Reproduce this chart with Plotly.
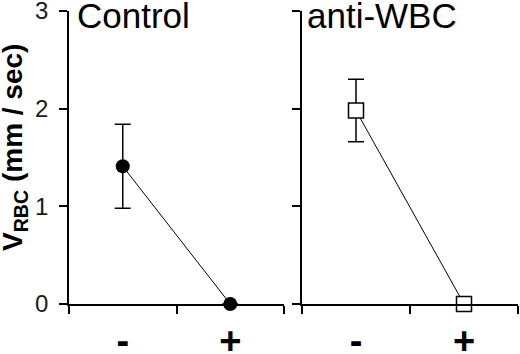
import plotly.graph_objects as go

categories = ["-", "+"]
control_vals = [1.41, 0.0]
control_err = [0.43, 0.0]
antiwbc_vals = [1.98, 0.0]
antiwbc_err = [0.32, 0.0]
y_ticks = [0, 1, 2, 3]
panel_titles = ["Control", "anti-WBC"]

W, H = 520, 354
ml, mr, mt, mb = 69, 2, 11, 50
pw = W - ml - mr
ph = H - mt - mb

fig = go.Figure()
fig.add_trace(go.Scatter(
    x=categories, y=control_vals, xaxis="x", yaxis="y",
    mode="lines+markers",
    line=dict(color="black", width=1),
    marker=dict(symbol="circle", size=14, color="black"),
    error_y=dict(type="data", array=control_err, visible=True,
                 color="black", thickness=1.5, width=8),
    cliponaxis=False, showlegend=False,
))
fig.add_trace(go.Scatter(
    x=categories, y=antiwbc_vals, xaxis="x2", yaxis="y2",
    mode="lines+markers",
    line=dict(color="black", width=1),
    marker=dict(symbol="square", size=15, color="white",
                line=dict(color="black", width=1.5)),
    error_y=dict(type="data", array=antiwbc_err, visible=True,
                 color="black", thickness=1.5, width=8),
    cliponaxis=False, showlegend=False,
))

d1 = [0, (284 - ml) / pw]
d2 = [(302 - ml) / pw, 1]

xcommon = dict(type="category", range=[-0.5, 1.5], tickson="boundaries",
               ticks="outside", ticklen=8, tickwidth=1.5, tickcolor="black",
               showline=True, linecolor="black", linewidth=1.5,
               showgrid=False, zeroline=False, automargin=False,
               ticklabelstandoff=3, ticklabeloverflow="allow",
               tickfont=dict(family="Liberation Sans", size=38, color="black", weight="bold"))
ycommon = dict(range=[0, 3], tickvals=y_ticks, ticks="outside", ticklen=8,
               tickwidth=1.5, tickcolor="black", showline=True, automargin=False,
               linecolor="black", linewidth=1.5, showgrid=False, zeroline=False,
               ticklabeloverflow="allow",
               tickfont=dict(family="Liberation Sans", size=24, color="#1a1a1a"))

fig.update_layout(
    width=W, height=H,
    margin=dict(l=ml, r=mr, t=mt, b=mb),
    paper_bgcolor="white", plot_bgcolor="white",
    xaxis=dict(domain=d1, anchor="y", **xcommon),
    xaxis2=dict(domain=d2, anchor="y2", **xcommon),
    yaxis=dict(anchor="x", ticklabelstandoff=6, **ycommon),
    yaxis2=dict(anchor="x2", showticklabels=False, **ycommon),
    annotations=[
        dict(text=panel_titles[0], xref="paper", yref="paper",
             x=(75 - ml) / pw, y=(ph + mt + 6) / ph, xanchor="left", yanchor="top",
             showarrow=False, font=dict(family="Liberation Sans", size=35, color="black")),
        dict(text=panel_titles[1], xref="paper", yref="paper",
             x=(305 - ml) / pw, y=(ph + mt + 6) / ph, xanchor="left", yanchor="top",
             showarrow=False, font=dict(family="Liberation Sans", size=35, color="black")),
        dict(text="V<sub>RBC</sub> (mm / sec)", xref="paper", yref="paper",
             x=(14 - ml) / pw, y=(H - mb - 148) / ph, xanchor="center", yanchor="middle",
             textangle=-90, showarrow=False,
             font=dict(family="Liberation Sans", size=28, color="black", weight="bold")),
    ],
)

fig.write_html("out.html", config={"displayModeBar": False},
               post_script="document.body.style.margin='0';document.body.style.overflow='hidden';")
